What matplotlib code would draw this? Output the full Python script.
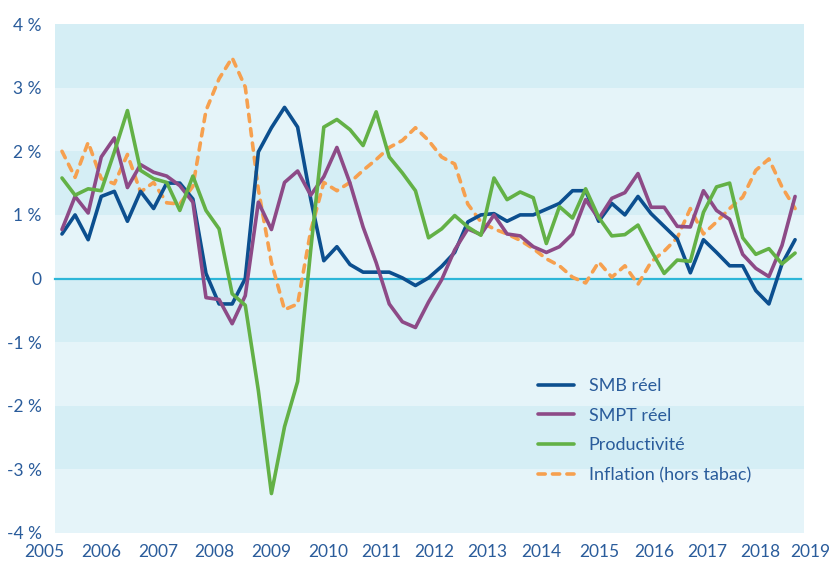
import matplotlib.pyplot as plt

# trimestriel, 2005T1 -> 2019T1 (glissement annuel, en %)
smb = [0.70, 1.00, 0.61, 1.29, 1.37, 0.90, 1.37, 1.10, 1.50, 1.50,
       1.25, 0.08, -0.40, -0.40, 0.00, 1.99, 2.37, 2.69, 2.38, 1.25,
       0.28, 0.50, 0.22, 0.10, 0.10, 0.10, 0.01, -0.11, 0.01, 0.19,
       0.41, 0.89, 1.00, 1.02, 0.90, 1.00, 1.00, 1.09, 1.18, 1.38,
       1.38, 0.90, 1.18, 1.00, 1.29, 1.02, 0.82, 0.62, 0.09, 0.61,
       0.41, 0.20, 0.20, -0.19, -0.40, 0.23, 0.61]
smpt = [0.77, 1.29, 1.03, 1.91, 2.21, 1.43, 1.79, 1.67, 1.61, 1.46,
        1.20, -0.30, -0.33, -0.71, -0.27, 1.20, 0.77, 1.51, 1.69, 1.31,
        1.60, 2.06, 1.50, 0.81, 0.25, -0.40, -0.68, -0.77, -0.37, -0.02,
        0.45, 0.78, 0.69, 1.00, 0.70, 0.67, 0.50, 0.41, 0.50, 0.70,
        1.24, 0.94, 1.26, 1.35, 1.65, 1.12, 1.12, 0.82, 0.81, 1.38,
        1.07, 0.93, 0.38, 0.16, 0.03, 0.52, 1.29]
productivite = [1.58, 1.31, 1.41, 1.38, 1.99, 2.64, 1.70, 1.57, 1.51, 1.07,
                1.61, 1.07, 0.78, -0.24, -0.42, -1.76, -3.38, -2.33, -1.62, 0.45,
                2.38, 2.50, 2.34, 2.09, 2.62, 1.91, 1.66, 1.38, 0.64, 0.78,
                0.99, 0.81, 0.68, 1.58, 1.24, 1.36, 1.27, 0.55, 1.13, 0.95,
                1.41, 0.96, 0.67, 0.69, 0.84, 0.44, 0.08, 0.29, 0.27, 1.04,
                1.44, 1.50, 0.64, 0.38, 0.47, 0.23, 0.40]
inflation = [2.00, 1.59, 2.14, 1.57, 1.49, 1.95, 1.36, 1.51, 1.19, 1.17,
             1.45, 2.64, 3.14, 3.47, 3.01, 1.40, 0.25, -0.49, -0.40, 0.75,
             1.51, 1.38, 1.51, 1.70, 1.87, 2.06, 2.17, 2.37, 2.17, 1.91,
             1.80, 1.17, 0.89, 0.78, 0.70, 0.60, 0.47, 0.31, 0.20, 0.02,
             -0.07, 0.26, 0.02, 0.20, -0.09, 0.26, 0.43, 0.64, 1.10, 0.70,
             0.89, 1.10, 1.28, 1.70, 1.88, 1.44, 1.10]

annees = ["2005", "2006", "2007", "2008", "2009", "2010", "2011", "2012",
          "2013", "2014", "2015", "2016", "2017", "2018", "2019"]
# les libelles d'annees ne sont pas cales sur les trimestres dans l'original
pos_annees = [-1.38, 2.98, 7.33, 11.61, 16.0, 20.32, 24.37, 28.42,
              32.47, 36.59, 41.02, 45.22, 49.27, 53.32, 57.14]
yticks = [4, 3, 2, 1, 0, -1, -2, -3, -4]
ylabels = ["4 %", "3 %", "2 %", "1 %", "0", "-1 %", "-2 %", "-3 %", "-4 %"]

BLEU = "#0c4f8f"
VIOLET = "#8d4a87"
VERT = "#63b146"
ORANGE = "#f6a04f"
TEXTE = "#2a5c9b"

plt.rcParams['font.family'] = ['Lato', 'DejaVu Sans']

fig = plt.figure(figsize=(8.32, 5.63), dpi=100)
ax = fig.add_axes([0.05168, 0.0533, 0.9244, 0.904])
ax.patch.set_visible(False)

x = list(range(len(smb)))
x0, x1 = -0.535, 56.68

# bandes de fond (bande 4-3 foncee, puis alternance)
for k in range(-4, 4):
    col = "#d5eef5" if k % 2 == 1 else "#e5f4f9"
    ax.fill_between([x0, x1], k, k + 1, color=col, lw=0, zorder=0)
ax.plot([x0, 56.45], [0, 0], color="#2db6d8", lw=1.6, zorder=1)

lw = 2.6
style = dict(lw=lw, solid_capstyle='round', dash_capstyle='round', zorder=3)
ax.plot(x, smb, color=BLEU, label="SMB réel", **style)
ax.plot(x, smpt, color=VIOLET, label="SMPT réel", **style)
ax.plot(x, productivite, color=VERT, label="Productivité", **style)
ax.plot(x, inflation, color=ORANGE, ls=(0, (2.0, 2.0)),
        label="Inflation (hors tabac)", **{**style, 'zorder': 2})

ax.set_xlim(-1.45, 57.3)
ax.set_ylim(-4, 4)
ax.set_xticks(pos_annees)
ax.set_xticklabels(annees)
ax.set_yticks(yticks)
ax.set_yticklabels(ylabels)
ax.tick_params(axis='both', length=0, colors=TEXTE, labelsize=12.5)
ax.tick_params(axis='x', pad=8)
ax.tick_params(axis='y', pad=1)
for s in ax.spines.values():
    s.set_visible(False)

leg = ax.legend(loc='upper left', bbox_to_anchor=(522 / 832, 1 - 362 / 563),
                bbox_transform=fig.transFigure, frameon=False, fontsize=13,
                handlelength=1.96, handletextpad=0.83, labelspacing=0.75)
for t in leg.get_texts():
    t.set_color(TEXTE)

fig.savefig("out.png", dpi=100)
